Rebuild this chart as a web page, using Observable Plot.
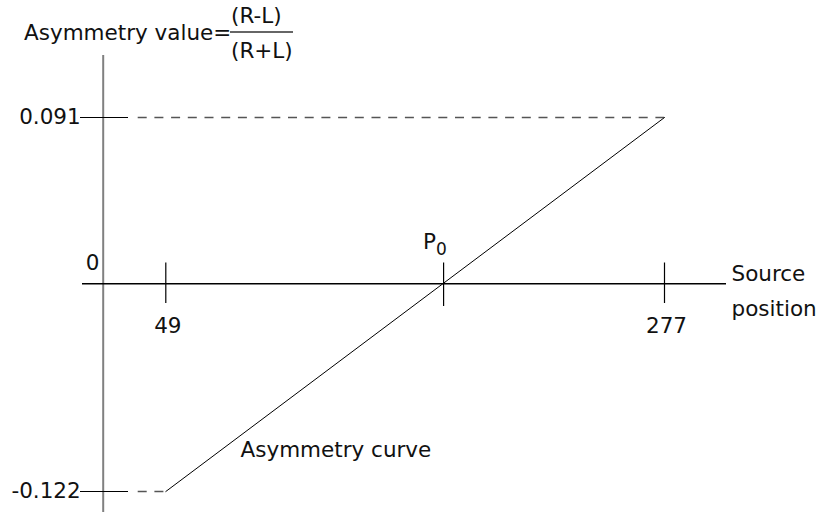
<!DOCTYPE html>
<html>
<head>
<meta charset="utf-8">
<script src="https://cdn.jsdelivr.net/npm/d3@7"></script>
<script src="https://cdn.jsdelivr.net/npm/@observablehq/plot@0.6"></script>
<style>
  html, body { margin: 0; padding: 0; background: #fff; }
  #wrap { position: relative; width: 822px; height: 515px; font-family: "DejaVu Sans", sans-serif; font-size: 21.5px; color: #111; }
  #wrap svg { position: absolute; left: 0; top: 0; }
  .t { position: absolute; line-height: 21px; white-space: nowrap; }
  #bar { position: absolute; left: 230px; top: 31px; width: 63px; height: 1.5px; background: #666; }
</style>
</head>
<body>
<div id="wrap">
  <div class="t" style="left:24px; top:21.5px;">Asymmetry value=</div>
  <div class="t" style="left:231px; top:4.5px;">(R-L)</div>
  <div id="bar"></div>
  <div class="t" style="left:231px; top:39.5px;">(R+L)</div>
</div>
<script>
// ---- data ----
const originValue = 0;
const originLabel = "0";
const xTickValues = [49, 277];
const xTickLabels = ["49", "277"];
const p0Value = 176;           // zero crossing of the curve
const p0Label = "P";
const p0Sub = "0";
const yTickValues = [0.091, -0.122];
const yTickLabels = ["0.091", "-0.122"];
const curveX = [49, 277];
const curveY = [-0.122, 0.091];
const curveLabel = "Asymmetry curve";
const xAxisTitle = "Source\nposition";

const font = "DejaVu Sans, sans-serif";

// schematic (piecewise) scales: the sketch is not drawn to scale
const schematicX = d3.scaleLinear().domain([originValue, xTickValues[0], xTickValues[1]]).range([102.7, 165.3, 664]);
const schematicY = d3.scaleLinear().domain([curveY[0], 0, curveY[1]]).range([491, 283.3, 117]);

const chart = Plot.plot({
  width: 822,
  height: 515,
  margin: 0,
  style: { fontFamily: font, fontSize: "21.5px", color: "#111", background: "transparent" },
  x: { axis: null, type: "linear", transform: schematicX, domain: [0, 822], range: [0, 822] },
  y: { axis: null, type: "linear", transform: schematicY, domain: [0, 515], range: [0, 515] },
  marks: [
    // dashed guides from axis to curve ends
    Plot.ruleY(curveY, { y: d => d, x1: originValue, x2: curveX, stroke: "#555", strokeWidth: 1.4, strokeDasharray: "9,7.7", insetLeft: 35 }),
    // y axis (gray)
    Plot.ruleX([originValue], { stroke: "#808080", strokeWidth: 2, insetTop: 55, insetBottom: 3 }),
    // x axis
    Plot.ruleY([0], { stroke: "#000", strokeWidth: 1.4, insetLeft: 82, insetRight: 96 }),
    // y ticks
    Plot.ruleY(yTickValues, { stroke: "#000", strokeWidth: 1.2, insetLeft: 80, insetRight: 694 }),
    // x ticks
    Plot.ruleX(xTickValues, { stroke: "#000", strokeWidth: 1.2, insetTop: 262.5, insetBottom: 212 }),
    Plot.ruleX([p0Value], { stroke: "#000", strokeWidth: 1.2, insetTop: 262.5, insetBottom: 209 }),
    // curve
    Plot.line(curveX.map((x, i) => ({ x, y: curveY[i] })), { x: "x", y: "y", stroke: "#000", strokeWidth: 1 }),
    // labels
    Plot.text(yTickValues, { x: originValue, y: d => d, text: (d, i) => yTickLabels[i], textAnchor: "end", dx: -22.5, style: "letter-spacing:0.6px" }),
    Plot.text(xTickValues, { x: d => d, y: 0, text: (d, i) => xTickLabels[i], dy: 42, dx: 2 }),
    Plot.text([originLabel], { x: originValue, y: 0, text: d => d, dx: -10.5, dy: -21 }),
    Plot.text([p0Label], { x: p0Value, y: 0, text: d => d, textAnchor: "end", dx: -7.7, dy: -42 }),
    Plot.text([p0Sub], { x: p0Value, y: 0, text: d => d, textAnchor: "start", dx: -7.5, dy: -34, fontSize: 17 }),
    Plot.text([curveLabel], { frameAnchor: "top-left", text: d => d, textAnchor: "start", lineAnchor: "middle", dx: 240, dy: 450 }),
    Plot.text([xAxisTitle], { frameAnchor: "top-left", text: d => d, textAnchor: "start", lineAnchor: "top", lineHeight: 1.63, dx: 731, dy: 256 })
  ]
});
document.getElementById("wrap").prepend(chart);
</script>
</body>
</html>
